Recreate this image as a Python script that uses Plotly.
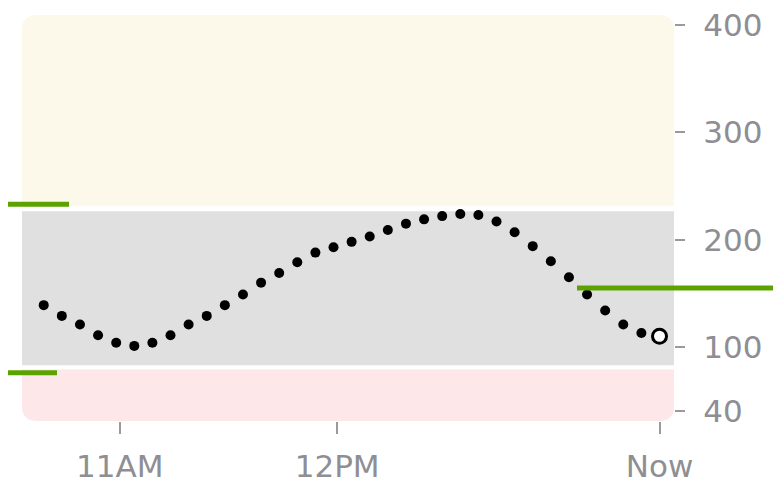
import plotly.graph_objects as go

# ---------------- data ----------------
day = "2024-05-01 "
times = ["10:39", "10:44", "10:49", "10:54", "10:59", "11:04", "11:09", "11:14",
         "11:19", "11:24", "11:29", "11:34", "11:39", "11:44", "11:49", "11:54",
         "11:59", "12:04", "12:09", "12:14", "12:19", "12:24", "12:29", "12:34",
         "12:39", "12:44", "12:49", "12:54", "12:59", "13:04", "13:09", "13:14",
         "13:19", "13:24", "13:29"]
glucose = [139, 129, 121, 111, 104, 101, 104, 111, 121, 129, 139, 149, 160, 169,
           179, 188, 193, 198, 203, 209, 215, 219, 222, 224, 223, 217, 207, 194,
           180, 165, 149, 134, 121, 113, 110]

x_tick_times = ["11:00", "12:00", "13:29"]
x_tick_labels = ["11AM", "12PM", "Now"]
y_tick_values = [40, 100, 200, 300, 400]

# range bands (low, high) in mg/dL
high_band = (231.5, 409.5)
target_band = (83, 226.5)
low_band = (31, 79)

# green indicator levels
indicator_levels = [233, 76, 155]

# ---------------- layout constants ----------------
PAGE_OFF = 8            # browser default body margin
W, H = 781 - PAGE_OFF, 490 - PAGE_OFF
ML, MR, MT, MB = 22 - PAGE_OFF, 107, 15 - PAGE_OFF, 69
PW, PH = W - ML - MR, H - MT - MB
Y_RANGE = [31, 409.5]
X_RANGE = [day + "10:33", day + "13:33"]
GRAY = "#8e8e93"
FONT = "DejaVu Sans"

x = [day + t for t in times]

fig = go.Figure()
fig.add_trace(go.Scatter(
    x=x[:-1], y=glucose[:-1], mode="markers",
    marker=dict(size=10, color="black"), cliponaxis=False, hoverinfo="skip"))
fig.add_trace(go.Scatter(
    x=x[-1:], y=glucose[-1:], mode="markers",
    marker=dict(size=14, color="white", line=dict(color="black", width=3)),
    cliponaxis=False, hoverinfo="skip"))

# rounded band shapes
px_per_unit = PH / (Y_RANGE[1] - Y_RANGE[0])
r_px = 15
rx = r_px / PW
ry = r_px / px_per_unit

yb, yt = high_band
path_high = (f"M 0,{yb} L 0,{yt - ry} Q 0,{yt} {rx},{yt} L {1 - rx},{yt} "
             f"Q 1,{yt} 1,{yt - ry} L 1,{yb} Z")
yb, yt = low_band
path_low = (f"M 0,{yt} L 1,{yt} L 1,{yb + ry} Q 1,{yb} {1 - rx},{yb} "
            f"L {rx},{yb} Q 0,{yb} 0,{yb + ry} Z")

shapes = [
    dict(type="path", path=path_high, xref="paper", yref="y",
         fillcolor="#fcf8ea", line=dict(width=0), layer="below"),
    dict(type="rect", x0=0, x1=1, y0=target_band[0], y1=target_band[1],
         xref="paper", yref="y", fillcolor="#e0e0e0", line=dict(width=0), layer="below"),
    dict(type="path", path=path_low, xref="paper", yref="y",
         fillcolor="#fde7e9", line=dict(width=0), layer="below"),
]

green = "#5ca300"
line_spans_px = [(0, 69), (0, 57), (577, 781)]   # page pixels
for lvl, (a, b) in zip(indicator_levels, line_spans_px):
    shapes.append(dict(type="line", xref="paper", yref="y",
                       x0=(a - PAGE_OFF - ML) / PW, x1=(b - PAGE_OFF - ML) / PW,
                       y0=lvl, y1=lvl,
                       line=dict(color=green, width=5), layer="above"))

fig.update_layout(
    width=W, height=H,
    margin=dict(l=ML, r=MR, t=MT, b=MB, autoexpand=False),
    paper_bgcolor="white", plot_bgcolor="white",
    showlegend=False,
    shapes=shapes,
    font=dict(family=FONT, color=GRAY, size=31),
    xaxis=dict(
        range=X_RANGE, type="date", automargin=False,
        tickvals=[day + t for t in x_tick_times], ticktext=x_tick_labels,
        ticks="outside", ticklen=12, tickwidth=1.5, tickcolor="#9a9a9a",
        showgrid=False, zeroline=False, showline=False,
        tickfont=dict(family=FONT, size=31, color=GRAY),
        ticklabelstandoff=6, ticklabeloverflow="allow",
    ),
    yaxis=dict(
        range=Y_RANGE, side="right", automargin=False,
        tickvals=y_tick_values,
        ticks="outside", ticklen=10, tickwidth=2, tickcolor="#9a9a9a",
        showgrid=False, zeroline=False, showline=False,
        tickfont=dict(family=FONT, size=31, color=GRAY),
        ticklabelstandoff=12, ticklabeloverflow="allow",
    ),
)

fig.write_html("out.html")
